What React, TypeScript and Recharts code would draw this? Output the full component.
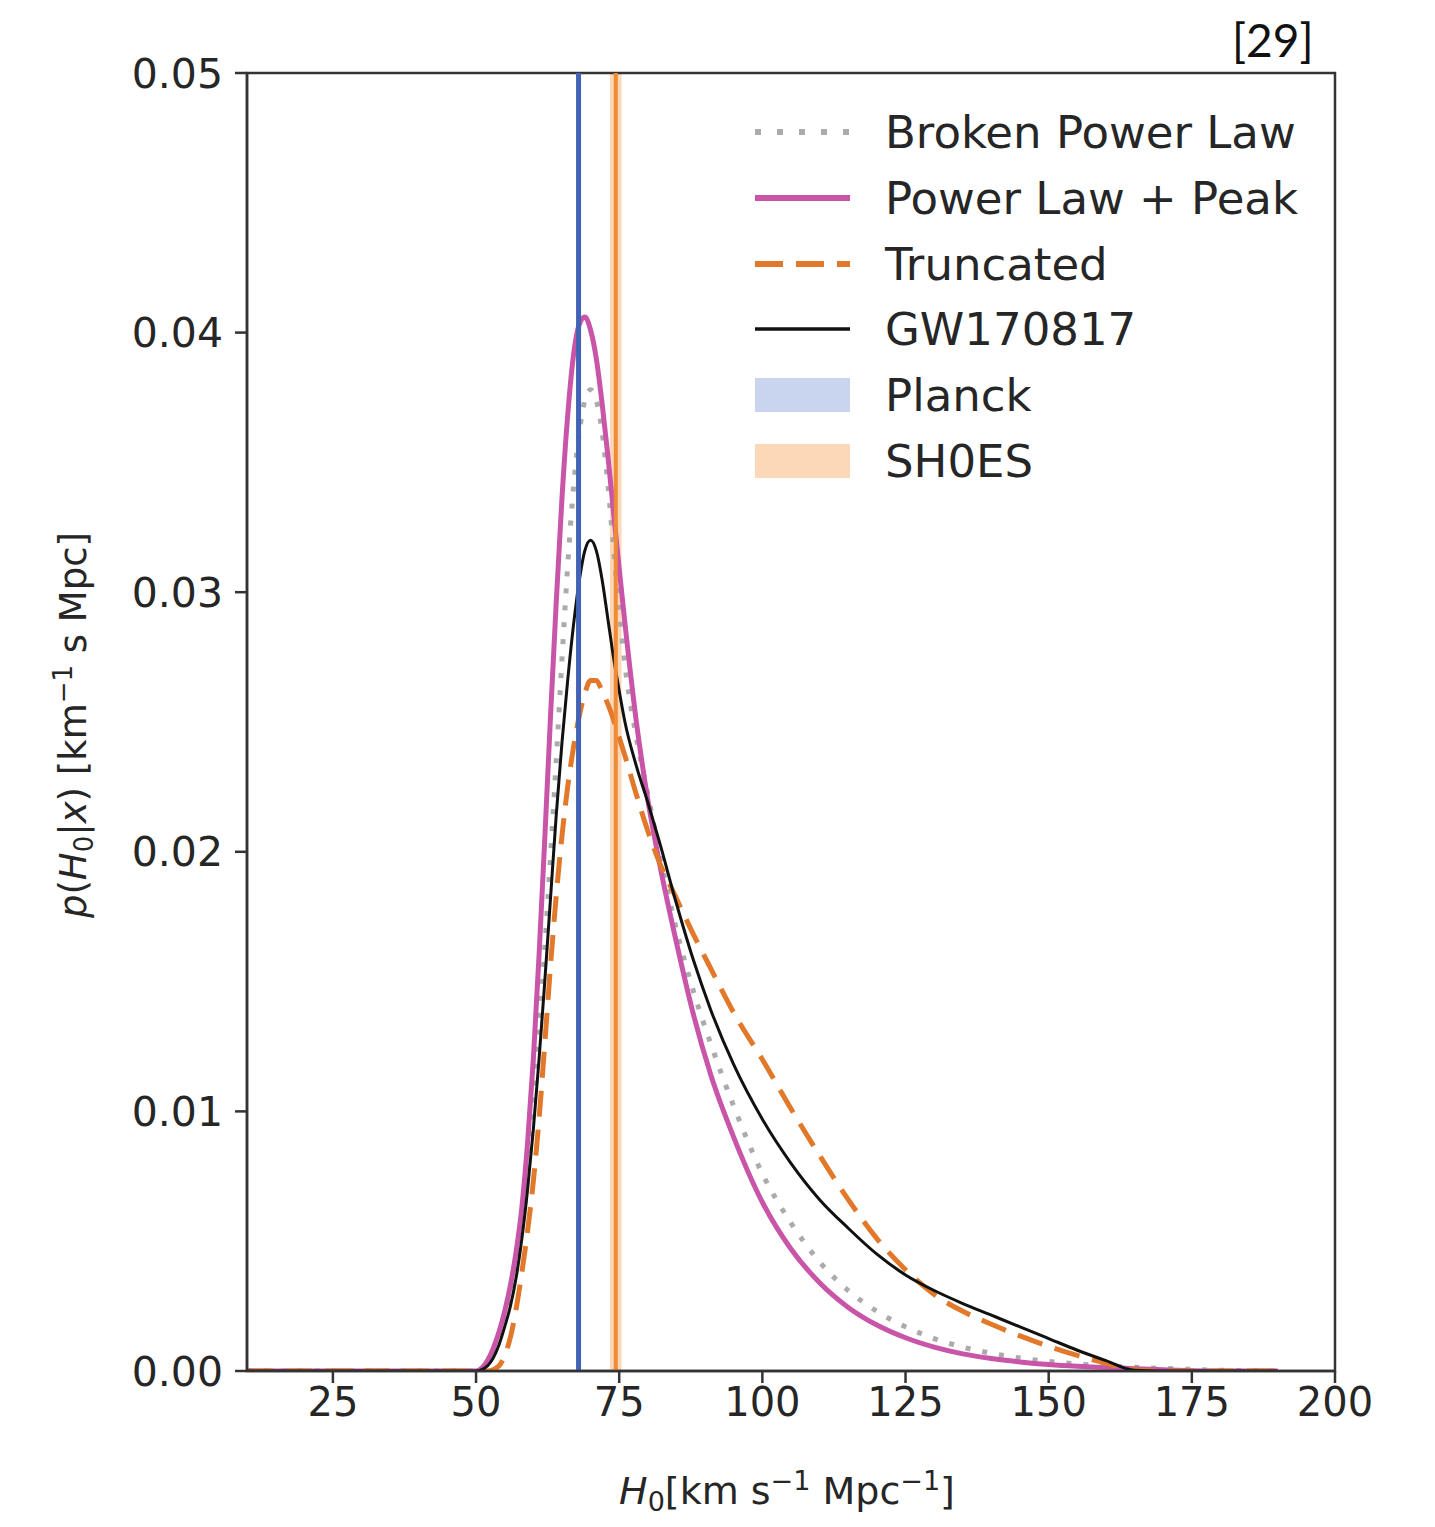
import React from 'react';
import { LineChart, Line, XAxis, YAxis, ReferenceArea, ReferenceLine, Legend, Label } from 'recharts';

// H0 grid (km s^-1 Mpc^-1)
const h0Grid = [10, 30, 50, 52, 54, 55, 56, 57, 58, 59, 60, 61, 62, 63, 64, 65, 66, 67, 68, 69, 70, 71, 72, 73, 74, 75, 76, 78, 80, 82, 85, 88, 91, 95, 100, 105, 110, 115, 120, 125, 130, 135, 140, 145, 150, 155, 160, 165, 170, 180, 190];

const brokenPowerLaw = [0, 0, 0, 0.0003, 0.0012, 0.0019, 0.0028, 0.004, 0.0055, 0.0075, 0.01, 0.013, 0.0163, 0.0198, 0.0235, 0.0274, 0.031, 0.034, 0.0361, 0.0374, 0.0378, 0.0374, 0.0362, 0.0342, 0.0317, 0.0293, 0.0272, 0.0244, 0.0222, 0.02, 0.017, 0.0146, 0.0126, 0.0102, 0.0076, 0.0057, 0.0042, 0.0031, 0.0023, 0.0017, 0.00125, 0.00092, 0.00068, 0.0005, 0.00037, 0.00027, 0.0002, 0.00014, 0.0001, 0.00003, 0];

const powerLawPeak = [0, 0, 0, 0.0004, 0.0015, 0.0023, 0.0033, 0.0046, 0.0063, 0.0088, 0.012, 0.016, 0.0205, 0.0252, 0.0296, 0.0336, 0.0368, 0.0391, 0.0403, 0.0406, 0.0401, 0.039, 0.0373, 0.0353, 0.0331, 0.0309, 0.0288, 0.025, 0.022, 0.0196, 0.0165, 0.0137, 0.0114, 0.009, 0.0065, 0.0047, 0.0034, 0.00245, 0.00177, 0.00128, 0.00092, 0.00066, 0.00048, 0.00035, 0.00025, 0.00018, 0.00013, 0.00009, 0.00005, 0, 0];

const truncated = [0, 0, 0, 0, 0.0002, 0.0006, 0.0013, 0.0024, 0.0038, 0.0054, 0.0073, 0.0097, 0.0126, 0.0156, 0.0183, 0.0206, 0.0225, 0.024, 0.0252, 0.0261, 0.0266, 0.0266, 0.0262, 0.0257, 0.0251, 0.0244, 0.0237, 0.0222, 0.0208, 0.0196, 0.0182, 0.0168, 0.0155, 0.0138, 0.012, 0.0101, 0.0083, 0.0066, 0.0051, 0.0039, 0.00295, 0.0023, 0.0018, 0.00135, 0.00095, 0.0006, 0.0003, 0.00005, 0, 0, 0];

const gw170817 = [0, 0, 0, 0.0002, 0.001, 0.0017, 0.0025, 0.0036, 0.0051, 0.007, 0.0093, 0.012, 0.015, 0.0182, 0.0214, 0.0242, 0.0266, 0.0287, 0.0304, 0.0316, 0.032, 0.0316, 0.0305, 0.029, 0.0275, 0.0262, 0.025, 0.0233, 0.0219, 0.0204, 0.018, 0.0158, 0.0139, 0.0118, 0.0097, 0.008, 0.0066, 0.0055, 0.0045, 0.0037, 0.0031, 0.0026, 0.00215, 0.0017, 0.00125, 0.0008, 0.0004, 0.00003, 0, 0, 0];

const xTicks = [25, 50, 75, 100, 125, 150, 175, 200];
const yTicks = [0, 0.01, 0.02, 0.03, 0.04, 0.05];

const planckCenter = 67.9;
const planckRange = [67.5, 68.3];
const shoesCenter = 74.4;
const shoesRange = [73.4, 75.4];

const legendLabels = ['Broken Power Law', 'Power Law + Peak', 'Truncated', 'GW170817', 'Planck', 'SH0ES'];
const citation = '[29]';

const data = h0Grid.map((h, i) => ({
  h0: h,
  bpl: brokenPowerLaw[i],
  plp: powerLawPeak[i],
  trunc: truncated[i],
  gw: gw170817[i],
}));

const FONT = 'DejaVu Sans';
const TEXT = '#262626';
const FRAME = '#333333';

const C_BPL = '#ABABAB';
const C_PLP = '#C955A9';
const C_TRUNC = '#E2792A';
const C_GW = '#111111';
const C_PLANCK = '#4262B6';
const C_PLANCK_BAND = '#C9D4EF';
const C_SHOES = '#F08A34';
const C_SHOES_BAND = '#FCD8B8';

const YLabelContent = () => (
  <text
    transform="translate(86,725) rotate(-90)"
    textAnchor="middle"
    fontFamily={FONT}
    fontSize={37}
    fill={TEXT}
  >
    <tspan fontStyle="italic">p</tspan>
    <tspan>(</tspan>
    <tspan fontStyle="italic">H</tspan>
    <tspan fontSize={26} dy={7}>0</tspan>
    <tspan dy={-7}>|</tspan>
    <tspan fontStyle="italic">x</tspan>
    <tspan>) [km</tspan>
    <tspan fontSize={26} dy={-14}>−1</tspan>
    <tspan dy={14}> s Mpc]</tspan>
  </text>
);

const XLabelContent = () => (
  <text x={787} y={1504} textAnchor="middle" fontFamily={FONT} fontSize={38} fill={TEXT}>
    <tspan fontStyle="italic">H</tspan>
    <tspan fontSize={27} dy={7}>0</tspan>
    <tspan dy={-7}>[km s</tspan>
    <tspan fontSize={27} dy={-14}>−1</tspan>
    <tspan dy={14}> Mpc</tspan>
    <tspan fontSize={27} dy={-14}>−1</tspan>
    <tspan dy={14}>]</tspan>
  </text>
);

const LegendContent = () => {
  const rowY = [42, 108, 174, 239, 305, 371];
  const x0 = 15;
  const x1 = 110;
  const tx = 145;
  return (
    <svg width={600} height={420} style={{ overflow: 'visible' }}>
      <line x1={x0} x2={x1} y1={rowY[0]} y2={rowY[0]} stroke={C_BPL} strokeWidth={6} strokeDasharray="6 16" />
      <line x1={x0} x2={x1} y1={rowY[1]} y2={rowY[1]} stroke={C_PLP} strokeWidth={6} />
      <line x1={x0} x2={x1} y1={rowY[2]} y2={rowY[2]} stroke={C_TRUNC} strokeWidth={6} strokeDasharray="28 13" />
      <line x1={x0} x2={x1} y1={rowY[3]} y2={rowY[3]} stroke={C_GW} strokeWidth={3.5} />
      <rect x={x0} y={rowY[4] - 17} width={x1 - x0} height={34} fill={C_PLANCK_BAND} />
      <rect x={x0} y={rowY[5] - 17} width={x1 - x0} height={34} fill={C_SHOES_BAND} />
      {legendLabels.map((lab, i) => (
        <text key={lab} x={tx} y={rowY[i] + 16} fontFamily={FONT} fontSize={45} fill={TEXT}>
          {lab}
        </text>
      ))}
    </svg>
  );
};

export default function App() {
  return (
    <div style={{ position: 'absolute', left: 0, top: 0, width: 1435, height: 1527, background: '#fff' }}>
      <div
        style={{
          position: 'absolute',
          left: 1232,
          top: 12,
          fontFamily: 'Lato, sans-serif',
          fontSize: 46,
          color: '#111',
          lineHeight: '56px',
          zIndex: 5,
        }}
      >
        {citation}
      </div>
      <LineChart
        width={1435}
        height={1527}
        data={data}
        margin={{ top: 73, right: 100, bottom: 0, left: 0 }}
      >
        <ReferenceArea x1={planckRange[0]} x2={planckRange[1]} y1={0} y2={0.05} fill={C_PLANCK_BAND} fillOpacity={1} stroke="none" ifOverflow="hidden" />
        <ReferenceArea x1={shoesRange[0]} x2={shoesRange[1]} y1={0} y2={0.05} fill={C_SHOES_BAND} fillOpacity={1} stroke="none" ifOverflow="hidden" />
        <XAxis
          dataKey="h0"
          type="number"
          domain={[10, 200]}
          ticks={xTicks}
          allowDataOverflow
          height={156}
          tickSize={12}
          tickMargin={5}
          tick={{ fontFamily: FONT, fontSize: 40, fill: TEXT }}
          tickLine={{ stroke: FRAME, strokeWidth: 2.5 }}
          axisLine={{ stroke: FRAME, strokeWidth: 2.5 }}
        >
          <Label content={<XLabelContent />} />
        </XAxis>
        <YAxis
          type="number"
          domain={[0, 0.05]}
          ticks={yTicks}
          allowDataOverflow
          width={247}
          tickSize={12}
          tickMargin={12}
          tickFormatter={(v: number) => v.toFixed(2)}
          tick={{ fontFamily: FONT, fontSize: 41, fill: TEXT }}
          tickLine={{ stroke: FRAME, strokeWidth: 2.5 }}
          axisLine={{ stroke: FRAME, strokeWidth: 2.5 }}
        >
          <Label content={<YLabelContent />} />
        </YAxis>
        <Line type="monotone" dataKey="bpl" stroke={C_BPL} strokeWidth={5} strokeDasharray="5 12" dot={false} isAnimationActive={false} />
        <Line type="monotone" dataKey="plp" stroke={C_PLP} strokeWidth={5} dot={false} isAnimationActive={false} />
        <Line type="monotone" dataKey="trunc" stroke={C_TRUNC} strokeWidth={5} strokeDasharray="26 13" dot={false} isAnimationActive={false} />
        <Line type="monotone" dataKey="gw" stroke={C_GW} strokeWidth={3} dot={false} isAnimationActive={false} />
        <ReferenceLine x={planckCenter} stroke={C_PLANCK} strokeWidth={5} />
        <ReferenceLine x={shoesCenter} stroke={C_SHOES} strokeWidth={4} />
        <ReferenceArea x1={10} x2={200} y1={0} y2={0.05} fill="none" stroke={FRAME} strokeWidth={2.5} />
        <Legend
          layout="vertical"
          align="center"
          verticalAlign="middle"
          content={<LegendContent />}
          wrapperStyle={{ position: 'absolute', left: 740, top: 90, width: 600, height: 420 }}
        />
      </LineChart>
    </div>
  );
}
